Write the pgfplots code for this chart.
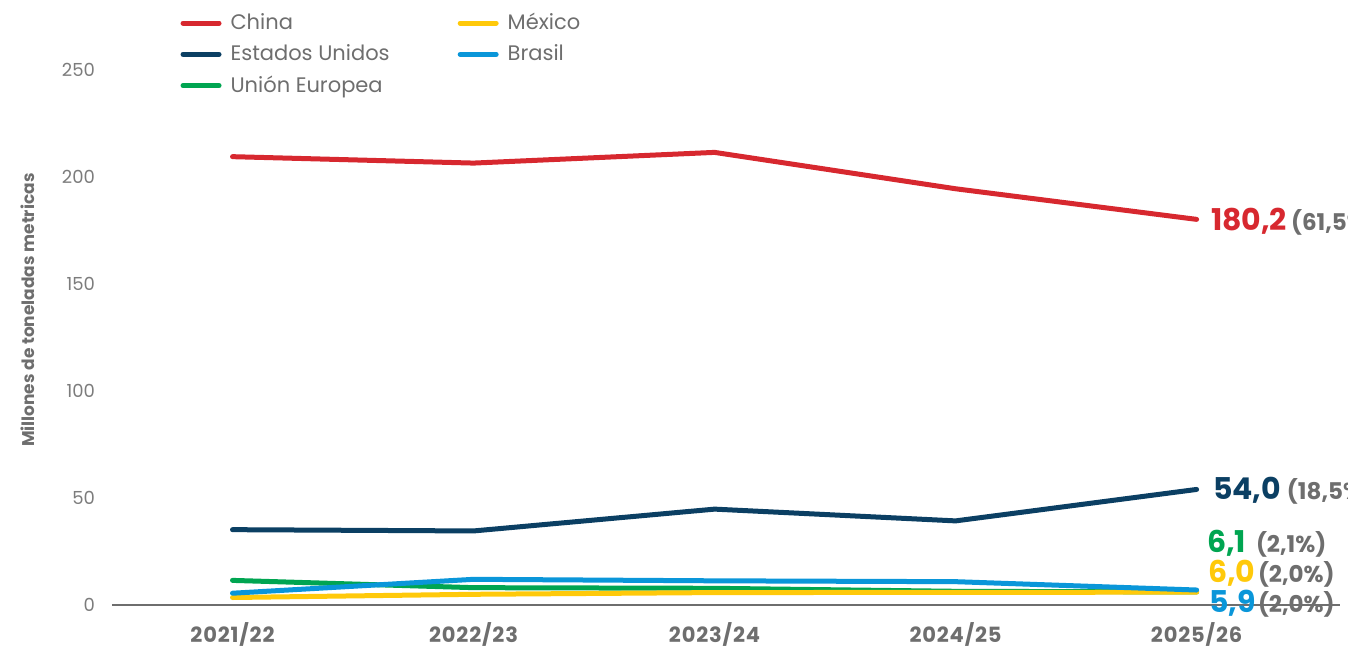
\documentclass[border=0pt]{standalone}
\usepackage{fontspec}
\setmainfont{Poppins}
\usepackage{pgfplots}
\pgfplotsset{compat=1.18}
\definecolor{cChina}{HTML}{D7282F}
\definecolor{cUS}{HTML}{0B3F63}
\definecolor{cEU}{HTML}{00A551}
\definecolor{cMX}{HTML}{FFC90A}
\definecolor{cBR}{HTML}{0A96D9}
\definecolor{cTxt}{HTML}{6E6E6E}
\definecolor{cTick}{HTML}{7C7C7C}
\pgfplotsset{limg/.style={legend image code/.code={\draw[##1, line width=2.5pt, line cap=round] (0pt,0pt) -- (18pt,0pt);}}}
\begin{document}
\begin{tikzpicture}
\path[use as bounding box] (-56pt,-21pt) rectangle (618pt,302.5pt);
\begin{axis}[
  at={(0,0)}, anchor=south west,
  scale only axis, width=614pt, height=267.5pt,
  xmin=-0.5, xmax=4.595, ymin=0, ymax=250,
  clip=false,
  axis x line*=bottom, axis y line*=left,
  y axis line style={draw=none},
  x axis line style={draw=cTxt, line width=1pt},
  major tick length=0pt,
  /pgf/number format/assume math mode=true,
  xtick={0,1,2,3,4},
  xticklabels={2021/22,2022/23,2023/24,2024/25,2025/26},
  ytick={0,50,100,150,200,250},
  yticklabel style={font=\fontsize{9}{10}\selectfont, text=cTick, xshift=-5pt},
  xticklabel style={font=\fontsize{10.5}{11}\selectfont\bfseries\addfontfeature{LetterSpace=4}, text=cTxt, yshift=-5pt},
  ylabel={Millones de toneladas metricas},
  ylabel style={font=\fontsize{8.5}{10}\selectfont\bfseries, text=cTxt, at={(axis description cs:-0.0684,0.551)}, anchor=center, rotate=0},
  legend style={at={(axis description cs:0.0506,1.1215)}, anchor=north west, draw=none, fill=none,
    font=\fontsize{10.5}{12}\selectfont, text=cTxt, row sep=2pt,
    /tikz/every odd column/.append style={column sep=2.5pt},
    /tikz/every even column/.append style={column sep=32pt}},
  legend columns=2, legend cell align=left,
]
\addlegendimage{limg, cChina}\addlegendentry{China}
\addlegendimage{limg, cMX}\addlegendentry{México}
\addlegendimage{limg, cUS}\addlegendentry{Estados Unidos}
\addlegendimage{limg, cBR}\addlegendentry{Brasil}
\addlegendimage{limg, cEU}\addlegendentry{Unión Europea}

\addplot[cChina, line width=2.5pt, line cap=round, forget plot] coordinates {(0,209.5) (1,206.5) (2,211.5) (3,194.5) (4,180.2)};
\addplot[cUS, line width=2.5pt, line cap=round, forget plot] coordinates {(0,35.2) (1,34.6) (2,44.8) (3,39.3) (4,54.0)};
\addplot[cEU, line width=2.5pt, line cap=round, forget plot] coordinates {(0,11.5) (1,8.1) (2,7.8) (3,6.4) (4,6.1)};
\addplot[cMX, line width=2.5pt, line cap=round, forget plot] coordinates {(0,3.5) (1,5.0) (2,5.8) (3,5.9) (4,6.0)};
\addplot[cBR, line width=2.5pt, line cap=round, forget plot] coordinates {(0,5.5) (1,12.0) (2,11.3) (3,10.9) (4,7.0)};

\node[anchor=west, inner sep=0pt, xshift=7pt] at (axis cs:4,179.3) {{\fontsize{15}{15}\selectfont\bfseries\color{cChina}180,2}\hspace{2pt}{\fontsize{11.5}{12}\selectfont\bfseries\color{cTxt}(61,5\%)}};
\node[anchor=west, inner sep=0pt, xshift=8pt] at (axis cs:4,53.6) {{\fontsize{15}{15}\selectfont\bfseries\color{cUS}54,0}\hspace{3pt}{\fontsize{11.5}{12}\selectfont\bfseries\color{cTxt}(18,5\%)}};
\node[anchor=west, inner sep=0pt, xshift=5pt] at (axis cs:4,28.8) {\makebox[24.5pt][l]{\fontsize{15}{15}\selectfont\bfseries\color{cEU}6,1}{\fontsize{11.5}{12}\selectfont\bfseries\color{cTxt}(2,1\%)}};
\node[anchor=west, inner sep=0pt, xshift=5.5pt] at (axis cs:4,14.8) {\makebox[25pt][l]{\fontsize{15}{15}\selectfont\bfseries\color{cMX}6,0}{\fontsize{11.5}{12}\selectfont\bfseries\color{cTxt}(2,0\%)}};
\node[anchor=west, inner sep=0pt, xshift=6pt] at (axis cs:4,0.8) {\makebox[24.5pt][l]{\fontsize{15}{15}\selectfont\bfseries\color{cBR}5,9}{\fontsize{11.5}{12}\selectfont\bfseries\color{cTxt}(2,0\%)}};
\end{axis}
\end{tikzpicture}
\end{document}
